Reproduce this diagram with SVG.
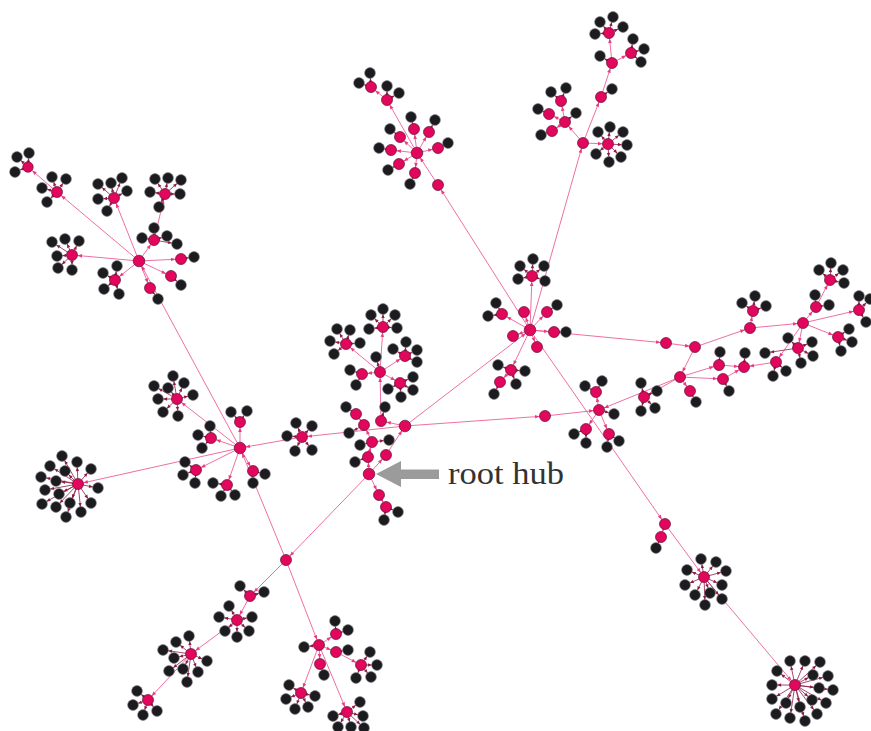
<svg xmlns="http://www.w3.org/2000/svg" width="871" height="731" viewBox="0 0 871 731">
<style>
.E line{stroke:#ea4a8c;stroke-width:0.8;fill:none;marker-end:url(#ap)}
.L line{stroke:#8e1b45;stroke-width:0.8;fill:none;marker-end:url(#al)}
.M circle{fill:#e2065c;stroke:#5b1230;stroke-width:0.7}
.B circle{fill:#1c1b20;stroke:#7a7a7a;stroke-width:0.6}
.lbl{font-family:"Liberation Serif","DejaVu Serif",serif;font-size:31px;fill:#333}
</style>
<defs>
<marker id="ap" viewBox="0 -3 12 6" refX="11.5" refY="0" markerWidth="12" markerHeight="6" markerUnits="userSpaceOnUse" orient="auto"><path d="M1.5,-1.8 L6,0 L1.5,1.8z" fill="#ea3a80"/></marker>
<marker id="al" viewBox="0 -3 12 6" refX="11.3" refY="0" markerWidth="12" markerHeight="6" markerUnits="userSpaceOnUse" orient="auto"><path d="M2.2,-1.7 L6,0 L2.2,1.7z" fill="#8e1b45"/></marker>
</defs>
<g id="connectors">
<g class="E">
<line x1="139" y1="261" x2="72" y2="255"/><line x1="139" y1="261" x2="57" y2="192"/><line x1="57" y1="192" x2="28" y2="167"/><line x1="139" y1="261" x2="114" y2="198"/><line x1="139" y1="261" x2="154" y2="240"/><line x1="154" y1="240" x2="165" y2="194"/><line x1="139" y1="261" x2="181" y2="259"/><line x1="139" y1="261" x2="171" y2="276"/><line x1="139" y1="261" x2="150" y2="288"/><line x1="139" y1="261" x2="115" y2="280"/>
<line x1="240" y1="448" x2="139" y2="261"/><line x1="240" y1="448" x2="78" y2="484"/><line x1="240" y1="448" x2="177" y2="399"/><line x1="240" y1="448" x2="211" y2="438"/><line x1="240" y1="448" x2="196" y2="470"/><line x1="240" y1="448" x2="240" y2="422"/><line x1="240" y1="448" x2="253" y2="471"/><line x1="240" y1="448" x2="227" y2="485"/><line x1="302" y1="437" x2="240" y2="448"/><line x1="286" y1="560" x2="240" y2="448"/>
<line x1="369" y1="474" x2="286" y2="560"/><line x1="369" y1="474" x2="368" y2="457"/><line x1="369" y1="474" x2="386" y2="455"/><line x1="369" y1="474" x2="379" y2="495"/><line x1="379" y1="495" x2="386" y2="507"/><line x1="368" y1="457" x2="372" y2="442"/><line x1="386" y1="455" x2="405" y2="426"/><line x1="372" y1="442" x2="364" y2="425"/><line x1="364" y1="425" x2="356" y2="414"/><line x1="405" y1="426" x2="381" y2="421"/><line x1="381" y1="421" x2="380" y2="372"/><line x1="380" y1="372" x2="383" y2="327"/><line x1="380" y1="372" x2="346" y2="344"/><line x1="380" y1="372" x2="362" y2="374"/><line x1="380" y1="372" x2="405" y2="356"/><line x1="380" y1="372" x2="400" y2="383"/><line x1="405" y1="426" x2="302" y2="437"/><line x1="405" y1="426" x2="530" y2="330"/><line x1="405" y1="426" x2="545" y2="416"/>
<line x1="286" y1="560" x2="250" y2="596"/><line x1="250" y1="596" x2="237" y2="620"/><line x1="237" y1="620" x2="191" y2="654"/><line x1="191" y1="654" x2="148" y2="700"/><line x1="286" y1="560" x2="319" y2="645"/><line x1="319" y1="645" x2="336" y2="634"/><line x1="319" y1="645" x2="336" y2="652"/><line x1="336" y1="652" x2="361" y2="665"/><line x1="319" y1="645" x2="320" y2="664"/><line x1="319" y1="645" x2="301" y2="693"/><line x1="319" y1="645" x2="347" y2="712"/>
<line x1="530" y1="330" x2="532" y2="276"/><line x1="530" y1="330" x2="502" y2="314"/><line x1="530" y1="330" x2="524" y2="312"/><line x1="530" y1="330" x2="547" y2="312"/><line x1="530" y1="330" x2="554" y2="332"/><line x1="530" y1="330" x2="513" y2="336"/><line x1="530" y1="330" x2="537" y2="347"/><line x1="530" y1="330" x2="511" y2="370"/><line x1="511" y1="370" x2="500" y2="382"/><line x1="530" y1="330" x2="583" y2="143"/><line x1="583" y1="143" x2="601" y2="97"/><line x1="601" y1="97" x2="612" y2="63"/><line x1="612" y1="63" x2="609" y2="33"/><line x1="612" y1="63" x2="631" y2="53"/><line x1="583" y1="143" x2="608" y2="144"/><line x1="583" y1="143" x2="565" y2="122"/><line x1="565" y1="122" x2="561" y2="101"/><line x1="565" y1="122" x2="549" y2="114"/><line x1="565" y1="122" x2="552" y2="131"/><line x1="530" y1="330" x2="438" y2="185"/><line x1="438" y1="185" x2="417" y2="153"/><line x1="417" y1="153" x2="414" y2="129"/><line x1="417" y1="153" x2="400" y2="137"/><line x1="417" y1="153" x2="391" y2="150"/><line x1="417" y1="153" x2="399" y2="164"/><line x1="417" y1="153" x2="415" y2="173"/><line x1="417" y1="153" x2="429" y2="132"/><line x1="417" y1="153" x2="438" y2="148"/><line x1="417" y1="153" x2="387" y2="100"/><line x1="387" y1="100" x2="371" y2="87"/><line x1="530" y1="330" x2="665" y2="524"/><line x1="665" y1="524" x2="661" y2="537"/><line x1="665" y1="524" x2="704" y2="577"/><line x1="704" y1="577" x2="795" y2="685"/><line x1="530" y1="330" x2="666" y2="343"/>
<line x1="545" y1="416" x2="599" y2="410"/><line x1="599" y1="410" x2="596" y2="392"/><line x1="599" y1="410" x2="586" y2="429"/><line x1="599" y1="410" x2="609" y2="434"/><line x1="680" y1="377" x2="599" y2="410"/><line x1="680" y1="377" x2="644" y2="397"/><line x1="666" y1="343" x2="695" y2="347"/><line x1="695" y1="347" x2="680" y2="377"/><line x1="695" y1="347" x2="750" y2="328"/><line x1="680" y1="377" x2="719" y2="365"/><line x1="680" y1="377" x2="723" y2="379"/><line x1="680" y1="377" x2="690" y2="391"/><line x1="719" y1="365" x2="744" y2="367"/><line x1="723" y1="379" x2="744" y2="367"/><line x1="776" y1="362" x2="744" y2="367"/><line x1="750" y1="328" x2="753" y2="311"/><line x1="750" y1="328" x2="803" y2="323"/><line x1="803" y1="323" x2="816" y2="307"/><line x1="816" y1="307" x2="830" y2="280"/><line x1="803" y1="323" x2="798" y2="348"/><line x1="803" y1="323" x2="776" y2="362"/><line x1="803" y1="323" x2="859" y2="310"/><line x1="803" y1="323" x2="838" y2="337"/>
</g>
<g class="L">
<line x1="28" y1="167" x2="17" y2="157"/><line x1="28" y1="167" x2="29" y2="153"/><line x1="28" y1="167" x2="15" y2="172"/>
<line x1="57" y1="192" x2="52" y2="177"/><line x1="57" y1="192" x2="66" y2="179"/><line x1="57" y1="192" x2="42" y2="188"/><line x1="57" y1="192" x2="47" y2="202"/>
<line x1="114" y1="198" x2="98" y2="184"/><line x1="114" y1="198" x2="111" y2="183"/><line x1="114" y1="198" x2="122" y2="178"/><line x1="114" y1="198" x2="127" y2="191"/><line x1="114" y1="198" x2="98" y2="199"/><line x1="114" y1="198" x2="107" y2="211"/>
<line x1="165" y1="194" x2="155" y2="179"/><line x1="165" y1="194" x2="168" y2="178"/><line x1="165" y1="194" x2="181" y2="180"/><line x1="165" y1="194" x2="150" y2="192"/><line x1="165" y1="194" x2="180" y2="194"/><line x1="165" y1="194" x2="159" y2="207"/>
<line x1="154" y1="240" x2="154" y2="228"/><line x1="154" y1="240" x2="142" y2="238"/><line x1="154" y1="240" x2="167" y2="236"/><line x1="154" y1="240" x2="177" y2="244"/>
<line x1="72" y1="255" x2="52" y2="242"/><line x1="72" y1="255" x2="65" y2="239"/><line x1="72" y1="255" x2="79" y2="241"/><line x1="72" y1="255" x2="57" y2="256"/><line x1="72" y1="255" x2="58" y2="268"/><line x1="72" y1="255" x2="72" y2="270"/>
<line x1="181" y1="259" x2="194" y2="257"/><line x1="171" y1="276" x2="181" y2="285"/><line x1="150" y1="288" x2="158" y2="299"/>
<line x1="115" y1="280" x2="103" y2="273"/><line x1="115" y1="280" x2="117" y2="266"/><line x1="115" y1="280" x2="104" y2="289"/><line x1="115" y1="280" x2="119" y2="294"/>
<line x1="177" y1="399" x2="173" y2="376"/><line x1="177" y1="399" x2="154" y2="386"/><line x1="177" y1="399" x2="168" y2="388"/><line x1="177" y1="399" x2="184" y2="383"/><line x1="177" y1="399" x2="158" y2="399"/><line x1="177" y1="399" x2="193" y2="395"/><line x1="177" y1="399" x2="163" y2="412"/><line x1="177" y1="399" x2="178" y2="416"/>
<line x1="211" y1="438" x2="210" y2="426"/><line x1="211" y1="438" x2="198" y2="435"/><line x1="211" y1="438" x2="202" y2="448"/>
<line x1="196" y1="470" x2="185" y2="462"/><line x1="196" y1="470" x2="183" y2="475"/><line x1="196" y1="470" x2="195" y2="483"/>
<line x1="240" y1="422" x2="231" y2="412"/><line x1="240" y1="422" x2="247" y2="411"/>
<line x1="253" y1="471" x2="265" y2="474"/><line x1="253" y1="471" x2="253" y2="483"/>
<line x1="227" y1="485" x2="213" y2="483"/><line x1="227" y1="485" x2="221" y2="496"/><line x1="227" y1="485" x2="235" y2="495"/>
<line x1="78" y1="484" x2="62" y2="456"/><line x1="78" y1="484" x2="77" y2="462"/><line x1="78" y1="484" x2="50" y2="466"/><line x1="78" y1="484" x2="91" y2="469"/><line x1="78" y1="484" x2="65" y2="471"/><line x1="78" y1="484" x2="41" y2="477"/><line x1="78" y1="484" x2="56" y2="481"/><line x1="78" y1="484" x2="98" y2="488"/><line x1="78" y1="484" x2="45" y2="490"/><line x1="78" y1="484" x2="59" y2="494"/><line x1="78" y1="484" x2="42" y2="504"/><line x1="78" y1="484" x2="56" y2="507"/><line x1="78" y1="484" x2="70" y2="503"/><line x1="78" y1="484" x2="66" y2="517"/><line x1="78" y1="484" x2="81" y2="512"/><line x1="78" y1="484" x2="91" y2="503"/>
<line x1="302" y1="437" x2="296" y2="423"/><line x1="302" y1="437" x2="312" y2="426"/><line x1="302" y1="437" x2="287" y2="436"/><line x1="302" y1="437" x2="295" y2="451"/><line x1="302" y1="437" x2="312" y2="450"/>
<line x1="386" y1="507" x2="398" y2="512"/><line x1="386" y1="507" x2="384" y2="520"/>
<line x1="368" y1="457" x2="355" y2="462"/><line x1="372" y1="442" x2="360" y2="445"/><line x1="372" y1="442" x2="389" y2="440"/><line x1="364" y1="425" x2="349" y2="433"/><line x1="356" y1="414" x2="346" y2="407"/><line x1="381" y1="421" x2="385" y2="407"/><line x1="380" y1="372" x2="376" y2="357"/>
<line x1="383" y1="327" x2="371" y2="315"/><line x1="383" y1="327" x2="383" y2="309"/><line x1="383" y1="327" x2="395" y2="315"/><line x1="383" y1="327" x2="369" y2="329"/><line x1="383" y1="327" x2="397" y2="328"/>
<line x1="346" y1="344" x2="337" y2="329"/><line x1="346" y1="344" x2="350" y2="330"/><line x1="346" y1="344" x2="330" y2="341"/><line x1="346" y1="344" x2="360" y2="343"/><line x1="346" y1="344" x2="334" y2="354"/>
<line x1="362" y1="374" x2="350" y2="370"/><line x1="362" y1="374" x2="356" y2="385"/>
<line x1="405" y1="356" x2="393" y2="349"/><line x1="405" y1="356" x2="406" y2="342"/><line x1="405" y1="356" x2="417" y2="350"/><line x1="405" y1="356" x2="417" y2="362"/>
<line x1="400" y1="383" x2="413" y2="377"/><line x1="400" y1="383" x2="388" y2="389"/><line x1="400" y1="383" x2="413" y2="390"/><line x1="400" y1="383" x2="401" y2="397"/>
<line x1="250" y1="596" x2="240" y2="586"/><line x1="250" y1="596" x2="264" y2="592"/>
<line x1="237" y1="620" x2="229" y2="606"/><line x1="237" y1="620" x2="219" y2="617"/><line x1="237" y1="620" x2="252" y2="617"/><line x1="237" y1="620" x2="225" y2="631"/><line x1="237" y1="620" x2="249" y2="631"/><line x1="237" y1="620" x2="237" y2="637"/>
<line x1="191" y1="654" x2="189" y2="636"/><line x1="191" y1="654" x2="176" y2="642"/><line x1="191" y1="654" x2="163" y2="650"/><line x1="191" y1="654" x2="174" y2="658"/><line x1="191" y1="654" x2="207" y2="661"/><line x1="191" y1="654" x2="169" y2="671"/><line x1="191" y1="654" x2="183" y2="669"/><line x1="191" y1="654" x2="198" y2="672"/><line x1="191" y1="654" x2="187" y2="682"/>
<line x1="148" y1="700" x2="137" y2="691"/><line x1="148" y1="700" x2="133" y2="705"/><line x1="148" y1="700" x2="143" y2="715"/><line x1="148" y1="700" x2="157" y2="711"/>
<line x1="319" y1="645" x2="304" y2="647"/><line x1="336" y1="634" x2="335" y2="621"/><line x1="336" y1="634" x2="348" y2="630"/><line x1="336" y1="652" x2="348" y2="650"/>
<line x1="361" y1="665" x2="370" y2="652"/><line x1="361" y1="665" x2="377" y2="665"/><line x1="361" y1="665" x2="356" y2="678"/><line x1="361" y1="665" x2="371" y2="677"/>
<line x1="320" y1="664" x2="324" y2="675"/>
<line x1="301" y1="693" x2="289" y2="685"/><line x1="301" y1="693" x2="315" y2="696"/><line x1="301" y1="693" x2="286" y2="699"/><line x1="301" y1="693" x2="295" y2="709"/><line x1="301" y1="693" x2="308" y2="707"/>
<line x1="347" y1="712" x2="360" y2="702"/><line x1="347" y1="712" x2="333" y2="716"/><line x1="347" y1="712" x2="363" y2="716"/><line x1="347" y1="712" x2="338" y2="727"/><line x1="347" y1="712" x2="351" y2="727"/><line x1="347" y1="712" x2="364" y2="728"/>
<line x1="532" y1="276" x2="520" y2="266"/><line x1="532" y1="276" x2="533" y2="259"/><line x1="532" y1="276" x2="544" y2="266"/><line x1="532" y1="276" x2="518" y2="279"/><line x1="532" y1="276" x2="545" y2="281"/>
<line x1="502" y1="314" x2="496" y2="303"/><line x1="502" y1="314" x2="488" y2="316"/><line x1="547" y1="312" x2="557" y2="305"/><line x1="554" y1="332" x2="566" y2="332"/>
<line x1="511" y1="370" x2="498" y2="365"/><line x1="511" y1="370" x2="525" y2="371"/><line x1="511" y1="370" x2="516" y2="384"/><line x1="500" y1="382" x2="494" y2="394"/>
<line x1="609" y1="33" x2="600" y2="22"/><line x1="609" y1="33" x2="613" y2="17"/><line x1="609" y1="33" x2="623" y2="27"/><line x1="609" y1="33" x2="595" y2="34"/>
<line x1="612" y1="63" x2="600" y2="56"/><line x1="631" y1="53" x2="633" y2="39"/><line x1="631" y1="53" x2="644" y2="49"/><line x1="631" y1="53" x2="641" y2="62"/><line x1="601" y1="97" x2="612" y2="89"/>
<line x1="608" y1="144" x2="598" y2="132"/><line x1="608" y1="144" x2="610" y2="127"/><line x1="608" y1="144" x2="623" y2="132"/><line x1="608" y1="144" x2="627" y2="145"/><line x1="608" y1="144" x2="596" y2="154"/><line x1="608" y1="144" x2="609" y2="162"/><line x1="608" y1="144" x2="621" y2="157"/>
<line x1="565" y1="122" x2="576" y2="113"/><line x1="561" y1="101" x2="551" y2="92"/><line x1="561" y1="101" x2="566" y2="88"/><line x1="549" y1="114" x2="538" y2="109"/><line x1="552" y1="131" x2="541" y2="135"/>
<line x1="414" y1="129" x2="411" y2="117"/><line x1="400" y1="137" x2="390" y2="129"/><line x1="391" y1="150" x2="379" y2="148"/><line x1="399" y1="164" x2="388" y2="170"/><line x1="415" y1="173" x2="410" y2="184"/><line x1="429" y1="132" x2="435" y2="120"/><line x1="438" y1="148" x2="448" y2="143"/>
<line x1="387" y1="100" x2="387" y2="86"/><line x1="387" y1="100" x2="399" y2="93"/><line x1="371" y1="87" x2="370" y2="73"/><line x1="371" y1="87" x2="359" y2="83"/>
<line x1="661" y1="537" x2="656" y2="548"/>
<line x1="704" y1="577" x2="701" y2="559"/><line x1="704" y1="577" x2="716" y2="562"/><line x1="704" y1="577" x2="687" y2="570"/><line x1="704" y1="577" x2="726" y2="571"/><line x1="704" y1="577" x2="685" y2="585"/><line x1="704" y1="577" x2="722" y2="585"/><line x1="704" y1="577" x2="695" y2="595"/><line x1="704" y1="577" x2="710" y2="593"/><line x1="704" y1="577" x2="722" y2="599"/><line x1="704" y1="577" x2="705" y2="605"/>
<line x1="795" y1="685" x2="790" y2="661"/><line x1="795" y1="685" x2="805" y2="661"/><line x1="795" y1="685" x2="820" y2="662"/><line x1="795" y1="685" x2="777" y2="671"/><line x1="795" y1="685" x2="813" y2="675"/><line x1="795" y1="685" x2="828" y2="676"/><line x1="795" y1="685" x2="772" y2="685"/><line x1="795" y1="685" x2="819" y2="688"/><line x1="795" y1="685" x2="833" y2="690"/><line x1="795" y1="685" x2="772" y2="699"/><line x1="795" y1="685" x2="786" y2="703"/><line x1="795" y1="685" x2="800" y2="707"/><line x1="795" y1="685" x2="812" y2="700"/><line x1="795" y1="685" x2="826" y2="703"/><line x1="795" y1="685" x2="776" y2="714"/><line x1="795" y1="685" x2="790" y2="718"/><line x1="795" y1="685" x2="805" y2="721"/><line x1="795" y1="685" x2="817" y2="714"/>
<line x1="596" y1="392" x2="585" y2="386"/><line x1="596" y1="392" x2="602" y2="381"/><line x1="586" y1="429" x2="574" y2="434"/><line x1="586" y1="429" x2="586" y2="443"/><line x1="609" y1="434" x2="619" y2="441"/><line x1="609" y1="434" x2="607" y2="447"/><line x1="599" y1="410" x2="614" y2="414"/>
<line x1="644" y1="397" x2="641" y2="383"/><line x1="644" y1="397" x2="657" y2="391"/><line x1="644" y1="397" x2="641" y2="411"/><line x1="644" y1="397" x2="655" y2="408"/>
<line x1="690" y1="391" x2="696" y2="402"/><line x1="719" y1="365" x2="720" y2="352"/><line x1="723" y1="379" x2="729" y2="391"/><line x1="744" y1="367" x2="745" y2="353"/>
<line x1="753" y1="311" x2="742" y2="303"/><line x1="753" y1="311" x2="755" y2="296"/><line x1="753" y1="311" x2="766" y2="306"/>
<line x1="816" y1="307" x2="815" y2="295"/><line x1="816" y1="307" x2="829" y2="305"/>
<line x1="830" y1="280" x2="819" y2="270"/><line x1="830" y1="280" x2="831" y2="263"/><line x1="830" y1="280" x2="843" y2="270"/><line x1="830" y1="280" x2="844" y2="283"/>
<line x1="798" y1="348" x2="788" y2="338"/><line x1="798" y1="348" x2="812" y2="342"/><line x1="798" y1="348" x2="813" y2="356"/><line x1="798" y1="348" x2="801" y2="363"/><line x1="798" y1="348" x2="765" y2="353"/>
<line x1="776" y1="362" x2="773" y2="376"/><line x1="776" y1="362" x2="786" y2="371"/>
<line x1="838" y1="337" x2="849" y2="329"/><line x1="838" y1="337" x2="852" y2="342"/><line x1="838" y1="337" x2="841" y2="351"/>
<line x1="859" y1="310" x2="859" y2="296"/><line x1="859" y1="310" x2="870" y2="299"/><line x1="859" y1="310" x2="866" y2="322"/>
</g>
</g>
<g id="leaves" class="B">
<g id="b1"><circle cx="17" cy="157" r="5.4"/></g><g id="b2"><circle cx="29" cy="153" r="5.4"/></g><g id="b3"><circle cx="15" cy="172" r="5.4"/></g>
<g id="b4"><circle cx="52" cy="177" r="5.4"/></g><g id="b5"><circle cx="66" cy="179" r="5.4"/></g><g id="b6"><circle cx="42" cy="188" r="5.4"/></g><g id="b7"><circle cx="47" cy="202" r="5.4"/></g>
<g id="b8"><circle cx="98" cy="184" r="5.4"/></g><g id="b9"><circle cx="111" cy="183" r="5.4"/></g><g id="b10"><circle cx="122" cy="178" r="5.4"/></g><g id="b11"><circle cx="127" cy="191" r="5.4"/></g><g id="b12"><circle cx="98" cy="199" r="5.4"/></g><g id="b13"><circle cx="107" cy="211" r="5.4"/></g>
<g id="b14"><circle cx="155" cy="179" r="5.4"/></g><g id="b15"><circle cx="168" cy="178" r="5.4"/></g><g id="b16"><circle cx="181" cy="180" r="5.4"/></g><g id="b17"><circle cx="150" cy="192" r="5.4"/></g><g id="b18"><circle cx="180" cy="194" r="5.4"/></g><g id="b19"><circle cx="159" cy="207" r="5.4"/></g>
<g id="b20"><circle cx="154" cy="228" r="5.4"/></g><g id="b21"><circle cx="142" cy="238" r="5.4"/></g><g id="b22"><circle cx="167" cy="236" r="5.4"/></g><g id="b23"><circle cx="177" cy="244" r="5.4"/></g>
<g id="b24"><circle cx="52" cy="242" r="5.4"/></g><g id="b25"><circle cx="65" cy="239" r="5.4"/></g><g id="b26"><circle cx="79" cy="241" r="5.4"/></g><g id="b27"><circle cx="57" cy="256" r="5.4"/></g><g id="b28"><circle cx="58" cy="268" r="5.4"/></g><g id="b29"><circle cx="72" cy="270" r="5.4"/></g>
<g id="b30"><circle cx="194" cy="257" r="5.4"/></g><g id="b31"><circle cx="181" cy="285" r="5.4"/></g><g id="b32"><circle cx="158" cy="299" r="5.4"/></g>
<g id="b33"><circle cx="103" cy="273" r="5.4"/></g><g id="b34"><circle cx="117" cy="266" r="5.4"/></g><g id="b35"><circle cx="104" cy="289" r="5.4"/></g><g id="b36"><circle cx="119" cy="294" r="5.4"/></g>
<g id="b37"><circle cx="173" cy="376" r="5.4"/></g><g id="b38"><circle cx="154" cy="386" r="5.4"/></g><g id="b39"><circle cx="168" cy="388" r="5.4"/></g><g id="b40"><circle cx="184" cy="383" r="5.4"/></g><g id="b41"><circle cx="158" cy="399" r="5.4"/></g><g id="b42"><circle cx="193" cy="395" r="5.4"/></g><g id="b43"><circle cx="163" cy="412" r="5.4"/></g><g id="b44"><circle cx="178" cy="416" r="5.4"/></g>
<g id="b45"><circle cx="210" cy="426" r="5.4"/></g><g id="b46"><circle cx="198" cy="435" r="5.4"/></g><g id="b47"><circle cx="202" cy="448" r="5.4"/></g>
<g id="b48"><circle cx="185" cy="462" r="5.4"/></g><g id="b49"><circle cx="183" cy="475" r="5.4"/></g><g id="b50"><circle cx="195" cy="483" r="5.4"/></g>
<g id="b51"><circle cx="231" cy="412" r="5.4"/></g><g id="b52"><circle cx="247" cy="411" r="5.4"/></g>
<g id="b53"><circle cx="265" cy="474" r="5.4"/></g><g id="b54"><circle cx="253" cy="483" r="5.4"/></g>
<g id="b55"><circle cx="213" cy="483" r="5.4"/></g><g id="b56"><circle cx="221" cy="496" r="5.4"/></g><g id="b57"><circle cx="235" cy="495" r="5.4"/></g>
<g id="b58"><circle cx="62" cy="456" r="5.4"/></g><g id="b59"><circle cx="77" cy="462" r="5.4"/></g><g id="b60"><circle cx="50" cy="466" r="5.4"/></g><g id="b61"><circle cx="91" cy="469" r="5.4"/></g><g id="b62"><circle cx="65" cy="471" r="5.4"/></g><g id="b63"><circle cx="41" cy="477" r="5.4"/></g><g id="b64"><circle cx="56" cy="481" r="5.4"/></g><g id="b65"><circle cx="98" cy="488" r="5.4"/></g><g id="b66"><circle cx="45" cy="490" r="5.4"/></g><g id="b67"><circle cx="59" cy="494" r="5.4"/></g><g id="b68"><circle cx="42" cy="504" r="5.4"/></g><g id="b69"><circle cx="56" cy="507" r="5.4"/></g><g id="b70"><circle cx="70" cy="503" r="5.4"/></g><g id="b71"><circle cx="66" cy="517" r="5.4"/></g><g id="b72"><circle cx="81" cy="512" r="5.4"/></g><g id="b73"><circle cx="91" cy="503" r="5.4"/></g>
<g id="b74"><circle cx="296" cy="423" r="5.4"/></g><g id="b75"><circle cx="312" cy="426" r="5.4"/></g><g id="b76"><circle cx="287" cy="436" r="5.4"/></g><g id="b77"><circle cx="295" cy="451" r="5.4"/></g><g id="b78"><circle cx="312" cy="450" r="5.4"/></g>
<g id="b79"><circle cx="398" cy="512" r="5.4"/></g><g id="b80"><circle cx="384" cy="520" r="5.4"/></g>
<g id="b81"><circle cx="355" cy="462" r="5.4"/></g><g id="b82"><circle cx="360" cy="445" r="5.4"/></g><g id="b83"><circle cx="389" cy="440" r="5.4"/></g><g id="b84"><circle cx="349" cy="433" r="5.4"/></g><g id="b85"><circle cx="346" cy="407" r="5.4"/></g><g id="b86"><circle cx="385" cy="407" r="5.4"/></g><g id="b87"><circle cx="376" cy="357" r="5.4"/></g>
<g id="b88"><circle cx="371" cy="315" r="5.4"/></g><g id="b89"><circle cx="383" cy="309" r="5.4"/></g><g id="b90"><circle cx="395" cy="315" r="5.4"/></g><g id="b91"><circle cx="369" cy="329" r="5.4"/></g><g id="b92"><circle cx="397" cy="328" r="5.4"/></g>
<g id="b93"><circle cx="337" cy="329" r="5.4"/></g><g id="b94"><circle cx="350" cy="330" r="5.4"/></g><g id="b95"><circle cx="330" cy="341" r="5.4"/></g><g id="b96"><circle cx="360" cy="343" r="5.4"/></g><g id="b97"><circle cx="334" cy="354" r="5.4"/></g>
<g id="b98"><circle cx="350" cy="370" r="5.4"/></g><g id="b99"><circle cx="356" cy="385" r="5.4"/></g>
<g id="b100"><circle cx="393" cy="349" r="5.4"/></g><g id="b101"><circle cx="406" cy="342" r="5.4"/></g><g id="b102"><circle cx="417" cy="350" r="5.4"/></g><g id="b103"><circle cx="417" cy="362" r="5.4"/></g>
<g id="b104"><circle cx="413" cy="377" r="5.4"/></g><g id="b105"><circle cx="388" cy="389" r="5.4"/></g><g id="b106"><circle cx="413" cy="390" r="5.4"/></g><g id="b107"><circle cx="401" cy="397" r="5.4"/></g>
<g id="b108"><circle cx="240" cy="586" r="5.4"/></g><g id="b109"><circle cx="264" cy="592" r="5.4"/></g>
<g id="b110"><circle cx="229" cy="606" r="5.4"/></g><g id="b111"><circle cx="219" cy="617" r="5.4"/></g><g id="b112"><circle cx="252" cy="617" r="5.4"/></g><g id="b113"><circle cx="225" cy="631" r="5.4"/></g><g id="b114"><circle cx="249" cy="631" r="5.4"/></g><g id="b115"><circle cx="237" cy="637" r="5.4"/></g>
<g id="b116"><circle cx="189" cy="636" r="5.4"/></g><g id="b117"><circle cx="176" cy="642" r="5.4"/></g><g id="b118"><circle cx="163" cy="650" r="5.4"/></g><g id="b119"><circle cx="174" cy="658" r="5.4"/></g><g id="b120"><circle cx="207" cy="661" r="5.4"/></g><g id="b121"><circle cx="169" cy="671" r="5.4"/></g><g id="b122"><circle cx="183" cy="669" r="5.4"/></g><g id="b123"><circle cx="198" cy="672" r="5.4"/></g><g id="b124"><circle cx="187" cy="682" r="5.4"/></g>
<g id="b125"><circle cx="137" cy="691" r="5.4"/></g><g id="b126"><circle cx="133" cy="705" r="5.4"/></g><g id="b127"><circle cx="143" cy="715" r="5.4"/></g><g id="b128"><circle cx="157" cy="711" r="5.4"/></g>
<g id="b129"><circle cx="304" cy="647" r="5.4"/></g><g id="b130"><circle cx="335" cy="621" r="5.4"/></g><g id="b131"><circle cx="348" cy="630" r="5.4"/></g><g id="b132"><circle cx="348" cy="650" r="5.4"/></g>
<g id="b133"><circle cx="370" cy="652" r="5.4"/></g><g id="b134"><circle cx="377" cy="665" r="5.4"/></g><g id="b135"><circle cx="356" cy="678" r="5.4"/></g><g id="b136"><circle cx="371" cy="677" r="5.4"/></g>
<g id="b137"><circle cx="324" cy="675" r="5.4"/></g>
<g id="b138"><circle cx="289" cy="685" r="5.4"/></g><g id="b139"><circle cx="315" cy="696" r="5.4"/></g><g id="b140"><circle cx="286" cy="699" r="5.4"/></g><g id="b141"><circle cx="295" cy="709" r="5.4"/></g><g id="b142"><circle cx="308" cy="707" r="5.4"/></g>
<g id="b143"><circle cx="360" cy="702" r="5.4"/></g><g id="b144"><circle cx="333" cy="716" r="5.4"/></g><g id="b145"><circle cx="363" cy="716" r="5.4"/></g><g id="b146"><circle cx="338" cy="727" r="5.4"/></g><g id="b147"><circle cx="351" cy="727" r="5.4"/></g><g id="b148"><circle cx="364" cy="728" r="5.4"/></g>
<g id="b149"><circle cx="520" cy="266" r="5.4"/></g><g id="b150"><circle cx="533" cy="259" r="5.4"/></g><g id="b151"><circle cx="544" cy="266" r="5.4"/></g><g id="b152"><circle cx="518" cy="279" r="5.4"/></g><g id="b153"><circle cx="545" cy="281" r="5.4"/></g>
<g id="b154"><circle cx="496" cy="303" r="5.4"/></g><g id="b155"><circle cx="488" cy="316" r="5.4"/></g><g id="b156"><circle cx="557" cy="305" r="5.4"/></g><g id="b157"><circle cx="566" cy="332" r="5.4"/></g>
<g id="b158"><circle cx="498" cy="365" r="5.4"/></g><g id="b159"><circle cx="525" cy="371" r="5.4"/></g><g id="b160"><circle cx="516" cy="384" r="5.4"/></g><g id="b161"><circle cx="494" cy="394" r="5.4"/></g>
<g id="b162"><circle cx="600" cy="22" r="5.4"/></g><g id="b163"><circle cx="613" cy="17" r="5.4"/></g><g id="b164"><circle cx="623" cy="27" r="5.4"/></g><g id="b165"><circle cx="595" cy="34" r="5.4"/></g>
<g id="b166"><circle cx="600" cy="56" r="5.4"/></g><g id="b167"><circle cx="633" cy="39" r="5.4"/></g><g id="b168"><circle cx="644" cy="49" r="5.4"/></g><g id="b169"><circle cx="641" cy="62" r="5.4"/></g><g id="b170"><circle cx="612" cy="89" r="5.4"/></g>
<g id="b171"><circle cx="598" cy="132" r="5.4"/></g><g id="b172"><circle cx="610" cy="127" r="5.4"/></g><g id="b173"><circle cx="623" cy="132" r="5.4"/></g><g id="b174"><circle cx="627" cy="145" r="5.4"/></g><g id="b175"><circle cx="596" cy="154" r="5.4"/></g><g id="b176"><circle cx="609" cy="162" r="5.4"/></g><g id="b177"><circle cx="621" cy="157" r="5.4"/></g>
<g id="b178"><circle cx="576" cy="113" r="5.4"/></g><g id="b179"><circle cx="551" cy="92" r="5.4"/></g><g id="b180"><circle cx="566" cy="88" r="5.4"/></g><g id="b181"><circle cx="538" cy="109" r="5.4"/></g><g id="b182"><circle cx="541" cy="135" r="5.4"/></g>
<g id="b183"><circle cx="411" cy="117" r="5.4"/></g><g id="b184"><circle cx="390" cy="129" r="5.4"/></g><g id="b185"><circle cx="379" cy="148" r="5.4"/></g><g id="b186"><circle cx="388" cy="170" r="5.4"/></g><g id="b187"><circle cx="410" cy="184" r="5.4"/></g><g id="b188"><circle cx="435" cy="120" r="5.4"/></g><g id="b189"><circle cx="448" cy="143" r="5.4"/></g>
<g id="b190"><circle cx="387" cy="86" r="5.4"/></g><g id="b191"><circle cx="399" cy="93" r="5.4"/></g><g id="b192"><circle cx="370" cy="73" r="5.4"/></g><g id="b193"><circle cx="359" cy="83" r="5.4"/></g>
<g id="b194"><circle cx="656" cy="548" r="5.4"/></g>
<g id="b195"><circle cx="701" cy="559" r="5.4"/></g><g id="b196"><circle cx="716" cy="562" r="5.4"/></g><g id="b197"><circle cx="687" cy="570" r="5.4"/></g><g id="b198"><circle cx="726" cy="571" r="5.4"/></g><g id="b199"><circle cx="685" cy="585" r="5.4"/></g><g id="b200"><circle cx="722" cy="585" r="5.4"/></g><g id="b201"><circle cx="695" cy="595" r="5.4"/></g><g id="b202"><circle cx="710" cy="593" r="5.4"/></g><g id="b203"><circle cx="722" cy="599" r="5.4"/></g><g id="b204"><circle cx="705" cy="605" r="5.4"/></g>
<g id="b205"><circle cx="790" cy="661" r="5.4"/></g><g id="b206"><circle cx="805" cy="661" r="5.4"/></g><g id="b207"><circle cx="820" cy="662" r="5.4"/></g><g id="b208"><circle cx="777" cy="671" r="5.4"/></g><g id="b209"><circle cx="813" cy="675" r="5.4"/></g><g id="b210"><circle cx="828" cy="676" r="5.4"/></g><g id="b211"><circle cx="772" cy="685" r="5.4"/></g><g id="b212"><circle cx="819" cy="688" r="5.4"/></g><g id="b213"><circle cx="833" cy="690" r="5.4"/></g><g id="b214"><circle cx="772" cy="699" r="5.4"/></g><g id="b215"><circle cx="786" cy="703" r="5.4"/></g><g id="b216"><circle cx="800" cy="707" r="5.4"/></g><g id="b217"><circle cx="812" cy="700" r="5.4"/></g><g id="b218"><circle cx="826" cy="703" r="5.4"/></g><g id="b219"><circle cx="776" cy="714" r="5.4"/></g><g id="b220"><circle cx="790" cy="718" r="5.4"/></g><g id="b221"><circle cx="805" cy="721" r="5.4"/></g><g id="b222"><circle cx="817" cy="714" r="5.4"/></g>
<g id="b223"><circle cx="585" cy="386" r="5.4"/></g><g id="b224"><circle cx="602" cy="381" r="5.4"/></g><g id="b225"><circle cx="574" cy="434" r="5.4"/></g><g id="b226"><circle cx="586" cy="443" r="5.4"/></g><g id="b227"><circle cx="619" cy="441" r="5.4"/></g><g id="b228"><circle cx="607" cy="447" r="5.4"/></g><g id="b229"><circle cx="614" cy="414" r="5.4"/></g>
<g id="b230"><circle cx="641" cy="383" r="5.4"/></g><g id="b231"><circle cx="657" cy="391" r="5.4"/></g><g id="b232"><circle cx="641" cy="411" r="5.4"/></g><g id="b233"><circle cx="655" cy="408" r="5.4"/></g>
<g id="b234"><circle cx="696" cy="402" r="5.4"/></g><g id="b235"><circle cx="720" cy="352" r="5.4"/></g><g id="b236"><circle cx="729" cy="391" r="5.4"/></g><g id="b237"><circle cx="745" cy="353" r="5.4"/></g>
<g id="b238"><circle cx="742" cy="303" r="5.4"/></g><g id="b239"><circle cx="755" cy="296" r="5.4"/></g><g id="b240"><circle cx="766" cy="306" r="5.4"/></g>
<g id="b241"><circle cx="815" cy="295" r="5.4"/></g><g id="b242"><circle cx="829" cy="305" r="5.4"/></g>
<g id="b243"><circle cx="819" cy="270" r="5.4"/></g><g id="b244"><circle cx="831" cy="263" r="5.4"/></g><g id="b245"><circle cx="843" cy="270" r="5.4"/></g><g id="b246"><circle cx="844" cy="283" r="5.4"/></g>
<g id="b247"><circle cx="788" cy="338" r="5.4"/></g><g id="b248"><circle cx="812" cy="342" r="5.4"/></g><g id="b249"><circle cx="813" cy="356" r="5.4"/></g><g id="b250"><circle cx="801" cy="363" r="5.4"/></g><g id="b251"><circle cx="765" cy="353" r="5.4"/></g>
<g id="b252"><circle cx="773" cy="376" r="5.4"/></g><g id="b253"><circle cx="786" cy="371" r="5.4"/></g>
<g id="b254"><circle cx="849" cy="329" r="5.4"/></g><g id="b255"><circle cx="852" cy="342" r="5.4"/></g><g id="b256"><circle cx="841" cy="351" r="5.4"/></g>
<g id="b257"><circle cx="859" cy="296" r="5.4"/></g><g id="b258"><circle cx="870" cy="299" r="5.4"/></g><g id="b259"><circle cx="866" cy="322" r="5.4"/></g>
</g>
<g id="hubs" class="M">
<g id="h139_261"><circle cx="139" cy="261" r="5.8"/></g><g id="m72_255"><circle cx="72" cy="255" r="5.5"/></g><g id="m57_192"><circle cx="57" cy="192" r="5.5"/></g><g id="m28_167"><circle cx="28" cy="167" r="5.2"/></g><g id="m114_198"><circle cx="114" cy="198" r="5.5"/></g><g id="m154_240"><circle cx="154" cy="240" r="5.5"/></g><g id="m165_194"><circle cx="165" cy="194" r="5.5"/></g><g id="m181_259"><circle cx="181" cy="259" r="5.5"/></g><g id="m171_276"><circle cx="171" cy="276" r="5.5"/></g><g id="m150_288"><circle cx="150" cy="288" r="5.5"/></g><g id="m115_280"><circle cx="115" cy="280" r="5.5"/></g>
<g id="h240_448"><circle cx="240" cy="448" r="5.8"/></g><g id="m177_399"><circle cx="177" cy="399" r="5.5"/></g><g id="m211_438"><circle cx="211" cy="438" r="5.5"/></g><g id="m196_470"><circle cx="196" cy="470" r="5.5"/></g><g id="m240_422"><circle cx="240" cy="422" r="5.5"/></g><g id="m253_471"><circle cx="253" cy="471" r="5.5"/></g><g id="m227_485"><circle cx="227" cy="485" r="5.5"/></g><g id="m78_484"><circle cx="78" cy="484" r="5.5"/></g><g id="m302_437"><circle cx="302" cy="437" r="5.5"/></g>
<g id="root"><circle cx="369" cy="474" r="5.8"/></g><g id="m379_495"><circle cx="379" cy="495" r="5.5"/></g><g id="m386_507"><circle cx="386" cy="507" r="5.5"/></g><g id="m368_457"><circle cx="368" cy="457" r="5.5"/></g><g id="m372_442"><circle cx="372" cy="442" r="5.5"/></g><g id="m386_455"><circle cx="386" cy="455" r="5.5"/></g><g id="m405_426"><circle cx="405" cy="426" r="5.8"/></g><g id="m364_425"><circle cx="364" cy="425" r="5.5"/></g><g id="m356_414"><circle cx="356" cy="414" r="5.5"/></g><g id="m381_421"><circle cx="381" cy="421" r="5.5"/></g><g id="m380_372"><circle cx="380" cy="372" r="5.5"/></g><g id="m383_327"><circle cx="383" cy="327" r="5.5"/></g><g id="m346_344"><circle cx="346" cy="344" r="5.5"/></g><g id="m362_374"><circle cx="362" cy="374" r="5.5"/></g><g id="m405_356"><circle cx="405" cy="356" r="5.5"/></g><g id="m400_383"><circle cx="400" cy="383" r="5.5"/></g>
<g id="m286_560"><circle cx="286" cy="560" r="5.5"/></g><g id="m250_596"><circle cx="250" cy="596" r="5.5"/></g><g id="m237_620"><circle cx="237" cy="620" r="5.5"/></g><g id="m191_654"><circle cx="191" cy="654" r="5.5"/></g><g id="m148_700"><circle cx="148" cy="700" r="5.5"/></g><g id="m319_645"><circle cx="319" cy="645" r="5.5"/></g><g id="m336_634"><circle cx="336" cy="634" r="5.5"/></g><g id="m336_652"><circle cx="336" cy="652" r="5.5"/></g><g id="m361_665"><circle cx="361" cy="665" r="5.5"/></g><g id="m320_664"><circle cx="320" cy="664" r="5.5"/></g><g id="m301_693"><circle cx="301" cy="693" r="5.5"/></g><g id="m347_712"><circle cx="347" cy="712" r="5.5"/></g>
<g id="h530_330"><circle cx="530" cy="330" r="5.8"/></g><g id="m532_276"><circle cx="532" cy="276" r="5.5"/></g><g id="m502_314"><circle cx="502" cy="314" r="5.5"/></g><g id="m524_312"><circle cx="524" cy="312" r="5.5"/></g><g id="m547_312"><circle cx="547" cy="312" r="5.5"/></g><g id="m554_332"><circle cx="554" cy="332" r="5.5"/></g><g id="m513_336"><circle cx="513" cy="336" r="5.5"/></g><g id="m537_347"><circle cx="537" cy="347" r="5.5"/></g><g id="m511_370"><circle cx="511" cy="370" r="5.5"/></g><g id="m500_382"><circle cx="500" cy="382" r="5.5"/></g>
<g id="m583_143"><circle cx="583" cy="143" r="5.5"/></g><g id="m601_97"><circle cx="601" cy="97" r="5.5"/></g><g id="m612_63"><circle cx="612" cy="63" r="5.5"/></g><g id="m609_33"><circle cx="609" cy="33" r="5.5"/></g><g id="m631_53"><circle cx="631" cy="53" r="5.5"/></g><g id="m608_144"><circle cx="608" cy="144" r="5.5"/></g><g id="m565_122"><circle cx="565" cy="122" r="5.5"/></g><g id="m561_101"><circle cx="561" cy="101" r="5.5"/></g><g id="m549_114"><circle cx="549" cy="114" r="5.5"/></g><g id="m552_131"><circle cx="552" cy="131" r="5.5"/></g>
<g id="m438_185"><circle cx="438" cy="185" r="5.5"/></g><g id="h417_153"><circle cx="417" cy="153" r="5.8"/></g><g id="m414_129"><circle cx="414" cy="129" r="5.5"/></g><g id="m400_137"><circle cx="400" cy="137" r="5.5"/></g><g id="m391_150"><circle cx="391" cy="150" r="5.5"/></g><g id="m399_164"><circle cx="399" cy="164" r="5.5"/></g><g id="m415_173"><circle cx="415" cy="173" r="5.5"/></g><g id="m429_132"><circle cx="429" cy="132" r="5.5"/></g><g id="m438_148"><circle cx="438" cy="148" r="5.5"/></g><g id="m387_100"><circle cx="387" cy="100" r="5.5"/></g><g id="m371_87"><circle cx="371" cy="87" r="5.5"/></g>
<g id="m665_524"><circle cx="665" cy="524" r="5.5"/></g><g id="m661_537"><circle cx="661" cy="537" r="5.5"/></g><g id="m704_577"><circle cx="704" cy="577" r="5.5"/></g><g id="m795_685"><circle cx="795" cy="685" r="5.5"/></g>
<g id="m545_416"><circle cx="545" cy="416" r="5.5"/></g><g id="m599_410"><circle cx="599" cy="410" r="5.5"/></g><g id="m596_392"><circle cx="596" cy="392" r="5.5"/></g><g id="m586_429"><circle cx="586" cy="429" r="5.5"/></g><g id="m609_434"><circle cx="609" cy="434" r="5.5"/></g><g id="m644_397"><circle cx="644" cy="397" r="5.5"/></g>
<g id="m666_343"><circle cx="666" cy="343" r="5.5"/></g><g id="m695_347"><circle cx="695" cy="347" r="5.5"/></g><g id="m680_377"><circle cx="680" cy="377" r="5.5"/></g><g id="m690_391"><circle cx="690" cy="391" r="5.5"/></g><g id="m719_365"><circle cx="719" cy="365" r="5.5"/></g><g id="m723_379"><circle cx="723" cy="379" r="5.5"/></g><g id="m744_367"><circle cx="744" cy="367" r="5.5"/></g><g id="m750_328"><circle cx="750" cy="328" r="5.5"/></g><g id="m753_311"><circle cx="753" cy="311" r="5.5"/></g><g id="m803_323"><circle cx="803" cy="323" r="5.5"/></g><g id="m816_307"><circle cx="816" cy="307" r="5.5"/></g><g id="m830_280"><circle cx="830" cy="280" r="5.5"/></g><g id="m798_348"><circle cx="798" cy="348" r="5.5"/></g><g id="m776_362"><circle cx="776" cy="362" r="5.5"/></g><g id="m838_337"><circle cx="838" cy="337" r="5.5"/></g><g id="m859_310"><circle cx="859" cy="310" r="5.5"/></g>
</g>
<g id="root-label">
<polygon points="376,474 401,461 401,469.5 439,469.5 439,479 401,479 401,487" fill="#9b9b9b"/>
<text class="lbl" x="448" y="484" textLength="116" lengthAdjust="spacingAndGlyphs">root hub</text>
</g>
</svg>
